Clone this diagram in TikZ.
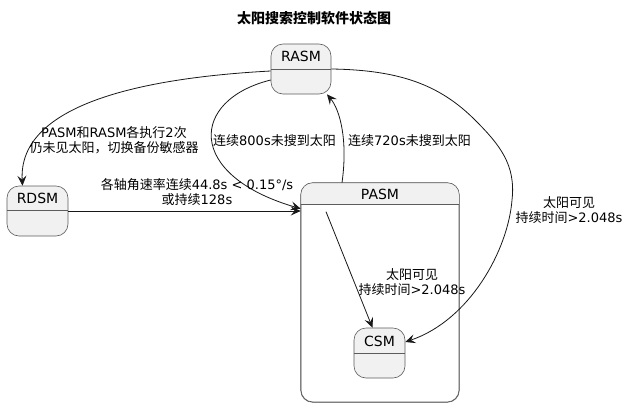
\documentclass[tikz,border=0pt]{standalone}
\usepackage{fontspec}
\setmainfont{DejaVu Sans}
\newfontfamily\cjk{Noto Sans CJK SC}
\usetikzlibrary{arrows.meta, positioning}
\definecolor{stateFill}{HTML}{F1F1F1}
\definecolor{stateEdge}{HTML}{5C5C5C}
\definecolor{transColor}{HTML}{181818}
\newcommand{\zh}[1]{{\cjk #1}}
\tikzset{
    state/.style={draw=stateEdge, fill=stateFill, rounded corners=12pt, line width=0.6pt, inner sep=0pt},
    statename/.style={font=\fontsize{14}{16}\selectfont, inner sep=0pt},
    divider/.style={draw=stateEdge, line width=0.6pt},
    trans/.style={draw=transColor, line width=0.8pt, -{Stealth[length=10pt, width=9pt, inset=4pt]}},
    translabel/.style={font=\fontsize{13}{15}\selectfont, align=center, inner sep=0pt}
}

\begin{document}
\begin{tikzpicture}[x=1pt, y=-1pt]
    \useasboundingbox (0,0) rectangle (628,407);

    % Title
    \node[font=\fontsize{14}{16}\selectfont\bfseries] (title) at (314,18) {\zh{太阳搜索控制软件状态图}};

    % States
    \node[state, minimum width=60pt, minimum height=50pt] (rasm) at (301,69) {};
    \node[state, minimum width=61pt, minimum height=50pt] (rdsm) at (37.5,211) {};
    \node[state, fill=white, minimum width=158pt, minimum height=219pt] (pasm) at (380,292.5) {};
    % header of the composite state
    \fill[stateFill] ([yshift=-22pt]pasm.north west) [rounded corners=12pt] -- (pasm.north west)
        -- (pasm.north east) [sharp corners] -- ([yshift=-22pt]pasm.north east) -- cycle;
    \draw[stateEdge, line width=0.6pt, rounded corners=12pt] (pasm.north west) rectangle (pasm.south east);
    \node[state, minimum width=51pt, minimum height=50pt] (csm) at (379.5,353) {};

    \node[statename] (rasm name) at ([yshift=-13pt]rasm.north) {RASM};
    \node[statename] (rdsm name) at ([yshift=-13pt]rdsm.north) {RDSM};
    \node[statename] (pasm name) at ([yshift=-12pt]pasm.north) {PASM};
    \node[statename] (csm name) at ([yshift=-14pt]csm.north) {CSM};

    \draw[divider] ([yshift=-26pt]rasm.north west) -- ([yshift=-26pt]rasm.north east);
    \draw[divider] ([yshift=-25pt]rdsm.north west) -- ([yshift=-25pt]rdsm.north east);
    \draw[divider] ([yshift=-22pt]pasm.north west) -- ([yshift=-22pt]pasm.north east);
    \draw[divider] ([yshift=-26pt]csm.north west) -- ([yshift=-26pt]csm.north east);

    % Transitions
    \draw[trans] ([yshift=-2pt]rasm.west) .. controls (140,78) and (18,105) .. ([xshift=-15pt]rdsm.north);
    \draw[trans] ([yshift=-11pt]rasm.west) .. controls (190,100) and (185,175) .. ([yshift=-26pt]pasm.north west);
    \draw[trans] ([xshift=-38pt]pasm.north) .. controls (348,140) and (340,110) .. ([xshift=26pt]rasm.south);
    \draw[trans] (rdsm.east) -- (rdsm.east -| pasm.west);
    \draw[trans] (rasm.east) .. controls (400,70) and (440,85) .. (475,120)
                 .. controls (500,145) and (516,165) .. (512,200)
                 .. controls (508,250) and (470,320) .. ([yshift=11pt]csm.east);
    \draw[trans] ([xshift=-54pt, yshift=-29pt]pasm.north) -- ([xshift=-7pt]csm.north);

    % Labels
    \node[translabel] (lbl rdsm) at (114,140.5) {PASM\zh{和}RASM\zh{各执行}2\zh{次}\\\zh{仍未见太阳，切换备份敏感器}};
    \node[translabel, anchor=west] (lbl pasm) at (213,141) {\zh{连续}800s\zh{未搜到太阳}};
    \node[translabel, anchor=west] (lbl rasm) at (348,141) {\zh{连续}720s\zh{未搜到太阳}};
    \node[translabel] (lbl rate) at (197,192.5) {\zh{各轴角速率连续}44.8s < 0.15°/s\\\zh{或持续}128s};
    \node[translabel] (lbl sun a) at (569,210.5) {\zh{太阳可见}\\\zh{持续时间}>2.048s};
    \node[translabel] (lbl sun b) at (412,282.5) {\zh{太阳可见}\\\zh{持续时间}>2.048s};
\end{tikzpicture}
\end{document}
